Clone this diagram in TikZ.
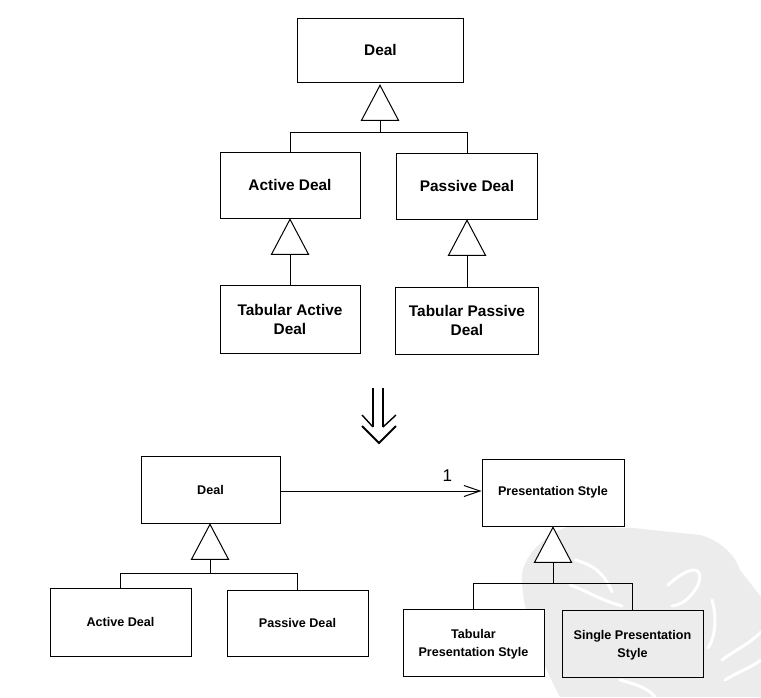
\documentclass[tikz,border=0pt]{standalone}
\usepackage{fontspec}
\setmainfont{Liberation Sans}
\usetikzlibrary{arrows.meta,shapes.geometric}
\definecolor{seal}{gray}{0.925}
\tikzset{
  box/.style={draw,line width=1pt,inner sep=2pt,align=center,fill=white,font=\bfseries\fontsize{15.4pt}{19pt}\selectfont},
  smallbox/.style={box,font=\bfseries\fontsize{12.6pt}{18pt}\selectfont},
  tri/.style={draw,line width=1pt,fill=white,shape=isosceles triangle,shape border rotate=90,isosceles triangle stretches=true,minimum width=37pt,minimum height=35pt,inner sep=0pt,anchor=apex},
  link/.style={line width=1pt},
  sealstroke/.style={draw=white,line width=3pt,line cap=round}
}
\begin{document}
\begin{tikzpicture}[x=1pt,y=-1pt]
  \useasboundingbox (0,0) rectangle (761,697);
  % grey seal behind the lower right boxes
  \fill[seal] (522,575) .. controls (524,555) and (545,535) .. (567,527) -- (633,528) -- (700,535) .. controls (720,540) and (735,555) .. (740,570) -- (761,597) -- (761,697) -- (560,697) .. controls (545,670) and (520,610) .. (522,575) -- cycle;
  \draw[sealstroke] (575,560) .. controls (595,565) and (605,575) .. (612,592);
  \draw[sealstroke] (570,585) .. controls (585,590) and (600,600) .. (622,606);
  \draw[sealstroke] (668,585) .. controls (690,565) and (705,565) .. (698,585) .. controls (690,600) and (680,605) .. (672,606);
  \draw[sealstroke] (712,600) .. controls (718,620) and (714,640) .. (708,648);
  \draw[sealstroke] (722,660) .. controls (735,650) and (748,645) .. (761,632);
  \draw[sealstroke] (725,680) .. controls (738,672) and (750,668) .. (761,660);
  \draw[sealstroke] (620,680) .. controls (640,685) and (650,690) .. (655,697);
  % upper classes
  \node[box,minimum width=166pt,minimum height=64pt] (deal) at (380.5,50) {Deal};
  \node[box,minimum width=140pt,minimum height=66pt] (active) at (290,185) {Active Deal};
  \node[box,minimum width=141pt,minimum height=66pt] (passive) at (467,186) {Passive Deal};
  \node[box,minimum width=140pt,minimum height=68pt] (tabactive) at (290,319) {Tabular Active\\Deal};
  \node[box,minimum width=143pt,minimum height=67pt] (tabpassive) at (467,320.5) {Tabular Passive\\Deal};
  % lower classes
  \node[smallbox,minimum width=139pt,minimum height=67pt] (dealb) at (210.5,489.5) {Deal};
  \node[smallbox,minimum width=142pt,minimum height=67pt] (style) at (553,492.5) {Presentation Style};
  \node[smallbox,minimum width=141pt,minimum height=68pt] (activeb) at (120.5,622) {Active Deal};
  \node[smallbox,minimum width=141pt,minimum height=66pt] (passiveb) at (297.5,623) {Passive Deal};
  \node[smallbox,minimum width=141pt,minimum height=67pt] (tabstyle) at (473.5,642.5) {\rule{0pt}{13pt}Tabular\\Presentation Style};
  \node[smallbox,minimum width=141pt,minimum height=67pt,fill=seal] (single) at (632.5,643.5) {\rule{0pt}{13pt}Single Presentation\\Style};
  % generalisation triangles
  \node[tri] (tridealtop) at (380,84) {};
  \node[tri] (triactive) at (290,218) {};
  \node[tri] (tripassive) at (467,219) {};
  \node[tri] (tridealb) at (210,523) {};
  \node[tri] (tristyle) at (553,526) {};
  % connectors
  \draw[link] (tridealtop.lower side) -- (380,132) -| (active.north);
  \draw[link] (tridealtop.lower side) -- (380,132) -| (passive.north);
  \draw[link] (triactive.lower side) -- (tabactive.north);
  \draw[link] (tripassive.lower side) -- (tabpassive.north);
  \draw[link] (tridealb.lower side) -- (210,573) -| (activeb.north);
  \draw[link] (tridealb.lower side) -- (210,573) -| (passiveb.north);
  \draw[link] (tristyle.lower side) -- (553,583) -| (tabstyle.north);
  \draw[link] (tristyle.lower side) -- (553,583) -| (single.north);
  \coordinate (styleend) at ([yshift=1.5pt]style.west);
  \draw[link,-{Straight Barb[length=16pt,width=11pt,line width=1pt]}] (dealb.east |- styleend) -- (styleend) node[pos=0.83,above=6pt,font=\fontsize{17pt}{17pt}\selectfont] (one) {1};
  % refinement arrow
  \coordinate (arrtip) at (379,443);
  \draw[line width=1.4pt] (373,388) -- (373,427) (383,388) -- (383,427);
  \draw[line width=1.4pt] (362,415) -- (373,427) (396,415) -- (383,427);
  \draw[line width=1.8pt] (362,426) -- (arrtip) -- (396,426);
\end{tikzpicture}
\end{document}
